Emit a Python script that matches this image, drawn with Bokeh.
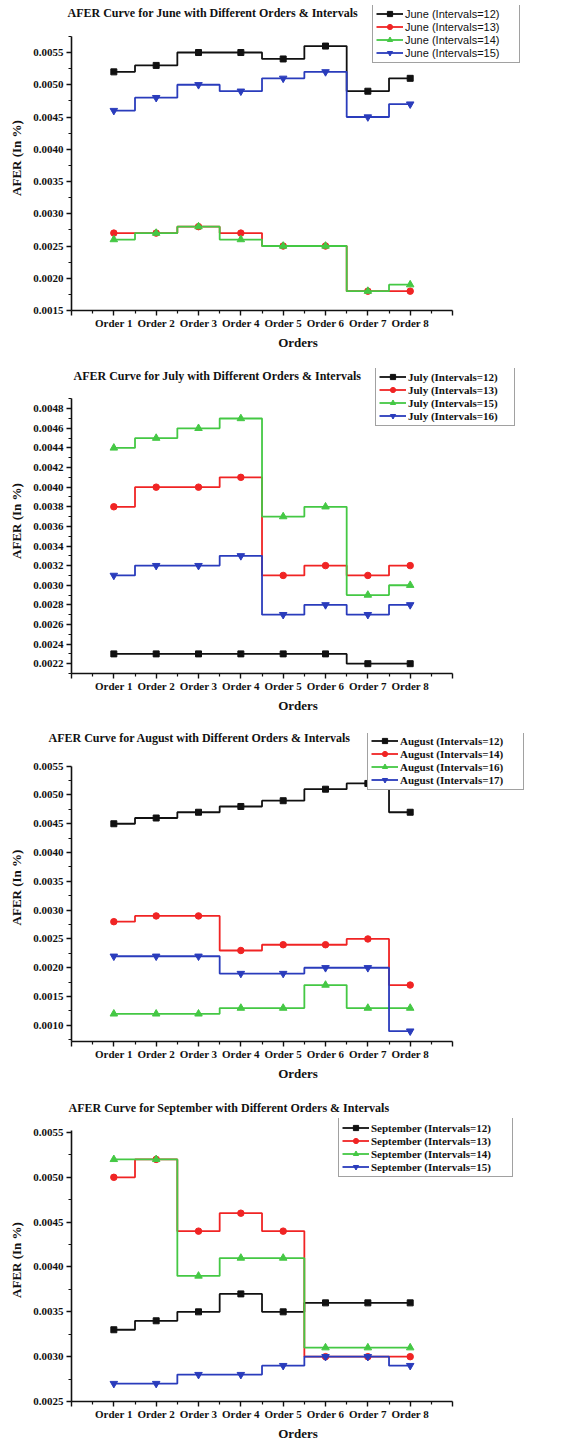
from bokeh.plotting import figure
from bokeh.layouts import column
from bokeh.models import FixedTicker, Legend, LegendItem, Label, Range1d
from bokeh.embed import file_html
from bokeh.resources import INLINE

orders = [1, 2, 3, 4, 5, 6, 7, 8]
order_labels = ["Order 1", "Order 2", "Order 3", "Order 4", "Order 5", "Order 6", "Order 7", "Order 8"]

june_names = ["June (Intervals=12)", "June (Intervals=13)", "June (Intervals=14)", "June (Intervals=15)"]
june_12 = [0.0052, 0.0053, 0.0055, 0.0055, 0.0054, 0.0056, 0.0049, 0.0051]
june_13 = [0.0027, 0.0027, 0.0028, 0.0027, 0.0025, 0.0025, 0.0018, 0.0018]
june_14 = [0.0026, 0.0027, 0.0028, 0.0026, 0.0025, 0.0025, 0.0018, 0.0019]
june_15 = [0.0046, 0.0048, 0.0050, 0.0049, 0.0051, 0.0052, 0.0045, 0.0047]

july_names = ["July (Intervals=12)", "July (Intervals=13)", "July (Intervals=15)", "July (Intervals=16)"]
july_12 = [0.0023, 0.0023, 0.0023, 0.0023, 0.0023, 0.0023, 0.0022, 0.0022]
july_13 = [0.0038, 0.0040, 0.0040, 0.0041, 0.0031, 0.0032, 0.0031, 0.0032]
july_15 = [0.0044, 0.0045, 0.0046, 0.0047, 0.0037, 0.0038, 0.0029, 0.0030]
july_16 = [0.0031, 0.0032, 0.0032, 0.0033, 0.0027, 0.0028, 0.0027, 0.0028]

aug_names = ["August (Intervals=12)", "August (Intervals=14)", "August (Intervals=16)", "August (Intervals=17)"]
aug_12 = [0.0045, 0.0046, 0.0047, 0.0048, 0.0049, 0.0051, 0.0052, 0.0047]
aug_14 = [0.0028, 0.0029, 0.0029, 0.0023, 0.0024, 0.0024, 0.0025, 0.0017]
aug_16 = [0.0012, 0.0012, 0.0012, 0.0013, 0.0013, 0.0017, 0.0013, 0.0013]
aug_17 = [0.0022, 0.0022, 0.0022, 0.0019, 0.0019, 0.0020, 0.0020, 0.0009]

sep_names = ["September (Intervals=12)", "September (Intervals=13)", "September (Intervals=14)", "September (Intervals=15)"]
sep_12 = [0.0033, 0.0034, 0.0035, 0.0037, 0.0035, 0.0036, 0.0036, 0.0036]
sep_13 = [0.0050, 0.0052, 0.0044, 0.0046, 0.0044, 0.0030, 0.0030, 0.0030]
sep_14 = [0.0052, 0.0052, 0.0039, 0.0041, 0.0041, 0.0031, 0.0031, 0.0031]
sep_15 = [0.0027, 0.0027, 0.0028, 0.0028, 0.0029, 0.0030, 0.0030, 0.0029]

titles = [
    "AFER Curve for June with Different Orders & Intervals",
    "AFER Curve for July with Different Orders & Intervals",
    "AFER Curve for August with Different Orders & Intervals",
    "AFER Curve for September with Different Orders & Intervals",
]

colors = ["#111111", "#f02424", "#44c844", "#2a3cbc"]
markers = ["square", "circle", "triangle", "inverted_triangle"]
msizes = [6, 6.5, 7.5, 7.5]

SERIF = "Liberation Serif"
W = 572


def ticks(start, stop, step):
    n = int(round((stop - start) / step))
    return [round(start + i * step, 6) for i in range(n + 1)]


def make_panel(title, names, series, yr, ybounds, major, minor, height, btop, bbot,
               title_side, title_x, title_y, leg_x, leg_y, leg_lw, leg_font, leg_style):
    p = figure(width=W, height=height, output_backend="svg", toolbar_location=None,
               x_range=Range1d(0, 10.7), y_range=Range1d(*yr),
               min_border_left=71, min_border_right=W - 524,
               min_border_top=btop, min_border_bottom=bbot)
    p.outline_line_color = None
    p.grid.visible = False
    p.background_fill_color = "white"
    p.border_fill_color = "white"

    p.xaxis.ticker = FixedTicker(ticks=list(range(0, 10)),
                                 minor_ticks=[i + 0.5 for i in range(0, 9)])
    overrides = {0: "", 9: ""}
    for o, lab in zip(orders, order_labels):
        overrides[o] = lab
    p.xaxis.major_label_overrides = overrides
    p.xaxis.bounds = (0, 9)
    p.yaxis.ticker = FixedTicker(ticks=major, minor_ticks=minor)
    p.yaxis.major_label_overrides = {t: "%.4f" % t for t in major}
    p.yaxis.bounds = ybounds

    for ax in (p.xaxis, p.yaxis):
        ax.axis_line_width = 1.6
        ax.axis_line_color = "#111111"
        ax.major_tick_line_width = 1.4
        ax.minor_tick_line_width = 1.2
        ax.major_tick_line_color = "#111111"
        ax.minor_tick_line_color = "#111111"
        ax.major_tick_in = 0
        ax.major_tick_out = 5
        ax.minor_tick_in = 0
        ax.minor_tick_out = 3
        ax.major_label_text_font = SERIF
        ax.major_label_text_font_style = "bold"
        ax.major_label_text_font_size = "11px"
        ax.major_label_text_color = "#111111"
        ax.axis_label_text_font = SERIF
        ax.axis_label_text_font_style = "bold"
        ax.axis_label_text_font_size = "13px"
        ax.axis_label_text_color = "#111111"
    p.xaxis.major_label_standoff = 1
    p.yaxis.major_label_standoff = 3
    p.xaxis.axis_label = "Orders"
    p.xaxis.axis_label_standoff = 3
    p.yaxis.axis_label = "AFER (In %)"
    p.yaxis.axis_label_standoff = 6

    items = []
    for name, vals, c, m, s in zip(names, series, colors, markers, msizes):
        lr = p.step(x=orders, y=vals, mode="center", line_color=c, line_width=1.8)
        sr = p.scatter(x=orders, y=vals, marker=m, size=s, fill_color=c, line_color=c)
        items.append(LegendItem(label=name, renderers=[lr, sr]))

    leg = Legend(items=items, location=(leg_x, leg_y))
    leg.margin = 0
    leg.padding = 3
    leg.spacing = 0
    leg.glyph_width = 27
    leg.glyph_height = 13
    leg.label_height = 13
    leg.label_width = leg_lw
    leg.label_standoff = 2
    leg.label_text_font = leg_font
    leg.label_text_font_style = leg_style
    leg.label_text_font_size = "11px"
    leg.label_text_color = "#111111"
    leg.label_text_baseline = "middle"
    leg.border_line_color = "#444444"
    leg.border_line_width = 1.5
    leg.background_fill_color = "white"
    leg.background_fill_alpha = 1.0
    p.add_layout(leg)

    p.add_layout(Label(x=title_x, y=title_y, x_units="screen", y_units="screen",
                       text=title, text_font=SERIF, text_font_style="bold",
                       text_font_size="12px", text_color="#111111",
                       text_baseline="middle", text_align="left"), title_side)
    return p


p1 = make_panel(titles[0], june_names, [june_12, june_13, june_14, june_15],
                (0.0015, 0.006229), (0.0015, 0.00575),
                ticks(0.0015, 0.0055, 0.0005), ticks(0.00175, 0.00575, 0.0005),
                368, 5, 58, "below", -4, 354, 301, 247, 111, "Liberation Sans", "normal")
p2 = make_panel(titles[1], july_names, [july_12, july_13, july_15, july_16],
                (0.0021, 0.00521), (0.0021, 0.0049),
                ticks(0.0022, 0.0048, 0.0002), ticks(0.0021, 0.0049, 0.0002),
                363, 0, 58, "below", 2, 354, 304, 247, 103, SERIF, "bold")
p3 = make_panel(titles[2], aug_names, [aug_12, aug_14, aug_16, aug_17],
                (0.00072, 0.006067), (0.00072, 0.0055),
                ticks(0.0010, 0.0055, 0.0005), ticks(0.00075, 0.00525, 0.0005),
                368, 2, 58, "below", -23, 360, 296, 251, 120, SERIF, "bold")
p4 = make_panel(titles[3], sep_names, [sep_12, sep_13, sep_14, sep_15],
                (0.0025, 0.005656), (0.0025, 0.00552),
                ticks(0.0025, 0.0055, 0.0005), ticks(0.00275, 0.00525, 0.0005),
                345, 19, 43, "above", -3, 11, 267, 224, 138, SERIF, "bold")

layout = column(p1, p2, p3, p4, spacing=0)
open("out.html", "w").write(file_html(layout, INLINE))
